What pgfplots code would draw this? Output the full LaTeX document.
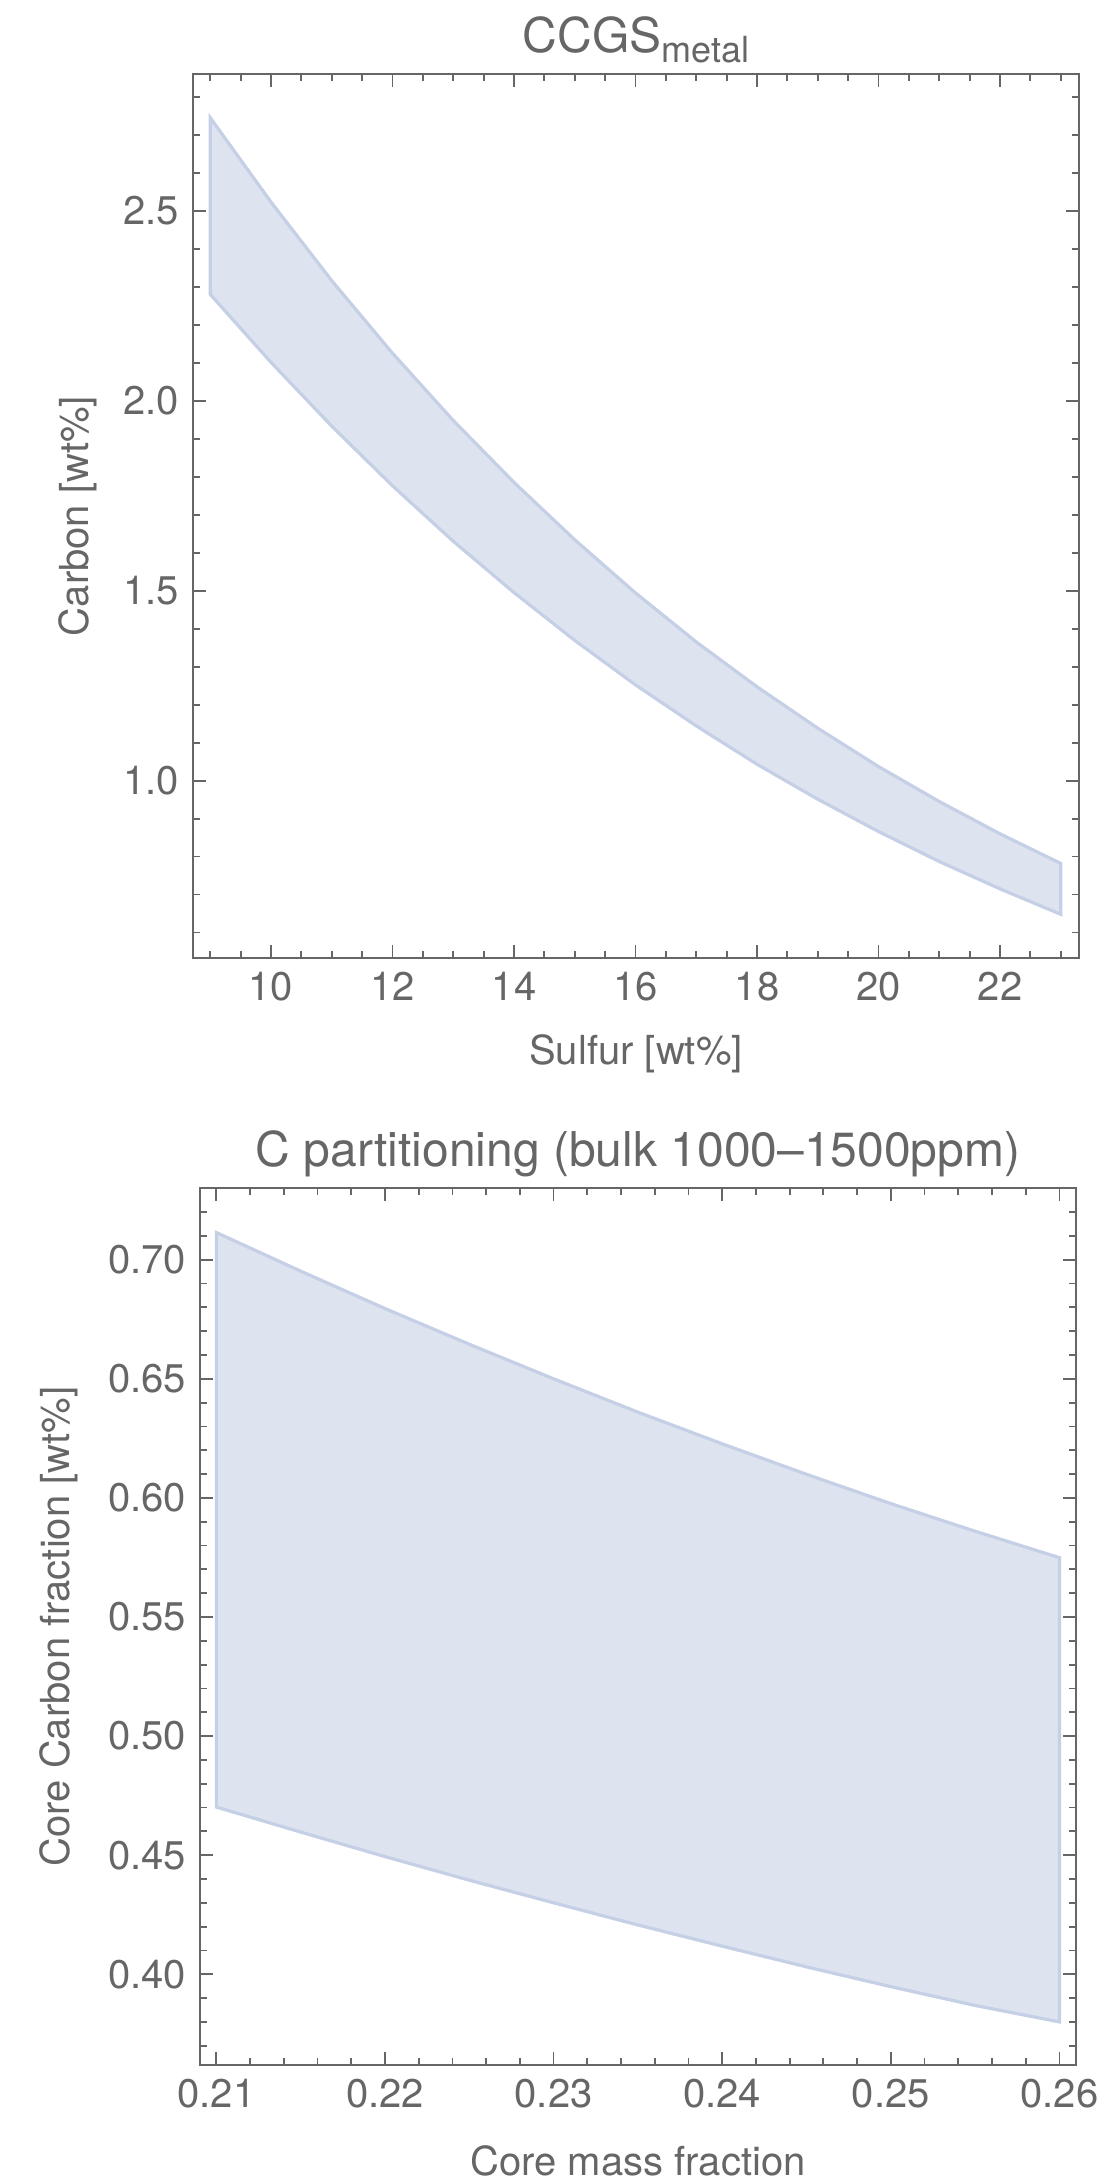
\documentclass[border=0pt]{standalone}
\usepackage{fontspec}
\setmainfont{TeX Gyre Heros}
\usepackage{pgfplots}
\pgfplotsset{compat=1.18}
\definecolor{axisgray}{HTML}{666666}
\definecolor{bandfill}{HTML}{DDE3EF}
\definecolor{bandedge}{HTML}{C5D0E6}

% Mathematica-like frame: inside ticks on all four sides, grey text
% (yshift=-6pt cancels the default 6pt lift of the title)
\pgfplotsset{
  mmaframe/.style={
    scale only axis,
    /pgf/number format/assume math mode=true,
    axis line style={axisgray, line width=0.45pt},
    tick style={axisgray, line width=0.45pt},
    tick align=inside,
    major tick length=3.2pt,
    minor tick length=1.8pt,
    ticklabel style={font=\fontsize{10}{12}\selectfont, text=axisgray},
    label style={font=\fontsize{10}{12}\selectfont, text=axisgray},
    title style={font=\fontsize{12}{14}\selectfont, text=axisgray, yshift=-6pt},
  },
  band/.style={fill=bandfill, draw=bandedge, line width=0.8pt},
}

\begin{document}
\begin{tikzpicture}
\path[use as bounding box] (0,0) rectangle (279.5pt,-544.5pt);

% top panel
\begin{axis}[
  mmaframe,
  at={(48.25pt,-239.5pt)}, anchor=south west,
  width=221.5pt, height=221pt,
  xmin=8.716, xmax=23.30, ymin=0.533, ymax=2.86,
  xtick={10,12,...,22},
  xticklabels={10,12,14,16,18,20,22},
  minor xtick={9,9.5,...,23},
  ytick={1,1.5,2,2.5},
  yticklabels={1.0,1.5,2.0,2.5},
  minor ytick={0.6,0.7,...,2.85},
  title={CCGS\raisebox{-2.5pt}{\fontsize{9}{10}\selectfont metal}},
  title style={at={(axis description cs:0.5,1.0249)}, anchor=base},
  xlabel={Sulfur [wt\%]},
  xlabel style={at={(axis description cs:0.5,-0.121)}, anchor=base},
  ylabel={Carbon [wt\%]},
  ylabel style={at={(axis description cs:-0.1174,0.5)}, anchor=base},
]
\addplot[band] coordinates {
  (9,2.745) (10,2.523) (11,2.316) (12,2.125) (13,1.948) (14,1.785)
  (15,1.634) (16,1.494) (17,1.365) (18,1.247) (19,1.138) (20,1.037)
  (21,0.945) (22,0.860) (23,0.782)
  (23,0.648) (22,0.715) (21,0.787) (20,0.866) (19,0.951) (18,1.043)
  (17,1.144) (16,1.252) (15,1.369) (14,1.495) (13,1.630) (12,1.776)
  (11,1.933) (10,2.101) (9,2.280)
} -- cycle;
\end{axis}

% bottom panel
\begin{axis}[
  mmaframe,
  at={(50pt,-516.25pt)}, anchor=south west,
  width=219pt, height=219.25pt,
  xmin=0.20903, xmax=0.26098, ymin=0.3619, ymax=0.7301,
  xtick={0.21,0.22,0.23,0.24,0.25,0.26},
  xticklabels={0.21,0.22,0.23,0.24,0.25,0.26},
  minor xtick={0.210,0.212,...,0.2605},
  ytick={0.40,0.45,0.50,0.55,0.60,0.65,0.70},
  yticklabels={0.40,0.45,0.50,0.55,0.60,0.65,0.70},
  minor ytick={0.37,0.38,...,0.725},
  title={C partitioning (bulk 1000--1500ppm)},
  title style={at={(axis description cs:0.5,1.024)}, anchor=base},
  xlabel={Core mass fraction},
  xlabel style={at={(axis description cs:0.5,-0.1254)}, anchor=base},
  ylabel={Core Carbon fraction [wt\%]},
  ylabel style={at={(axis description cs:-0.1484,0.5)}, anchor=base},
]
\addplot[band] coordinates {
  (0.210,0.7114) (0.215,0.6952) (0.220,0.6795) (0.225,0.6645) (0.230,0.6500)
  (0.235,0.6360) (0.240,0.6227) (0.245,0.6099) (0.250,0.5976) (0.255,0.5860)
  (0.260,0.5749)
  (0.260,0.3800) (0.255,0.3869) (0.250,0.3948) (0.245,0.4031) (0.240,0.4118)
  (0.235,0.4207) (0.230,0.4300) (0.225,0.4395) (0.220,0.4494) (0.215,0.4597)
  (0.210,0.4702)
} -- cycle;
\end{axis}
\end{tikzpicture}
\end{document}
